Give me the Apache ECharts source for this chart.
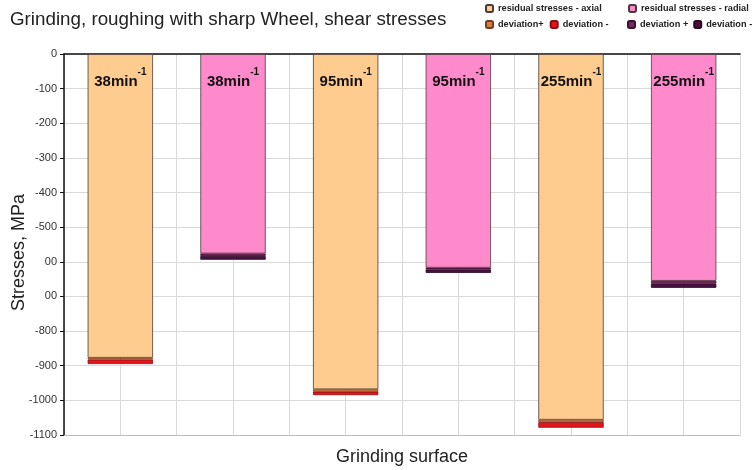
<!DOCTYPE html>
<html>
<head>
<meta charset="utf-8">
<script src="https://cdn.jsdelivr.net/npm/echarts@6/dist/echarts.min.js"></script>
<style>
  html, body { margin: 0; padding: 0; background: #fff; }
  #chart { width: 755px; height: 470px; }
</style>
</head>
<body>
<div id="chart"></div>
<script>
// wheel speeds, one bar per category (axial / radial alternating)
const speeds = ['38', '38', '95', '95', '255', '255'];
const axial = [-877, '-', -968, '-', -1056, '-'];
const radial = ['-', -576, '-', -617, '-', -655];
const axialDevPlus = [-5, '-', -7, '-', -7, '-'];
const axialDevMinus = [-13, '-', -10, '-', -16, '-'];
const radialDevPlus = ['-', -7, '-', -5, '-', -8];
const radialDevMinus = ['-', -11, '-', -10, '-', -12];
const yTicks = { '-600': '00', '-700': '00' }; // labels clipped in the original

const font = 'Liberation Sans, Arial, sans-serif';
const chart = echarts.init(document.getElementById('chart'));

const speedLabel = {
  show: true,
  position: 'insideTop',
  distance: 13,
  formatter: p => '{a|' + speeds[p.dataIndex] + 'min}{b|-1}',
  rich: {
    a: { fontFamily: font, fontSize: 15, fontWeight: 'bold', color: '#111', lineHeight: 30 },
    b: { fontFamily: font, fontSize: 10, fontWeight: 'bold', color: '#111', lineHeight: 12, verticalAlign: 'top' }
  }
};

const bar = (name, data, color, border, extra) => Object.assign({
  name: name,
  type: 'bar',
  stack: 'all',
  data: data,
  barWidth: '58%',
  itemStyle: { color: color, borderColor: border, borderWidth: 0.8 },
  emphasis: { disabled: true }
}, extra || {});

const legendBase = {
  padding: 0,
  width: 240,
  itemWidth: 7,
  itemHeight: 7,
  itemGap: 6,
  textStyle: { fontFamily: font, fontSize: 9.2, fontWeight: 'bold', color: '#222' },
  selectedMode: false
};

const option = {
  animation: false,
  title: {
    text: 'Grinding, roughing with sharp Wheel, shear stresses',
    left: 5,
    top: 5,
    textStyle: { fontFamily: font, fontSize: 18.8, fontWeight: 'normal', color: '#222' }
  },
  legend: [
    Object.assign({}, legendBase, { left: 485, top: 4, data: ['residual stresses - axial'] }),
    Object.assign({}, legendBase, { left: 485, top: 20, data: ['deviation+', 'deviation -'] }),
    Object.assign({}, legendBase, { left: 628, top: 4, data: ['residual stresses - radial'] }),
    Object.assign({}, legendBase, { left: 627, top: 20, itemGap: 5, data: ['deviation +', 'deviation - '] })
  ],
  grid: { left: 64, right: 15, top: 54, bottom: 35, outerBoundsMode: 'none', containLabel: false },
  xAxis: [
    {
      type: 'category',
      data: speeds,
      position: 'top',
      axisLine: { onZero: false, lineStyle: { color: '#111', width: 1.5 } },
      axisTick: { show: false },
      axisLabel: { show: false },
      splitLine: { show: false }
    },
    {
      type: 'value',
      min: 0,
      max: 12,
      interval: 1,
      position: 'bottom',
      name: 'Grinding surface',
      nameLocation: 'middle',
      nameGap: 13,
      nameTextStyle: { fontFamily: font, fontSize: 18, color: '#222' },
      axisLine: { show: true, onZero: false, lineStyle: { color: '#bdbdbd' } },
      axisTick: { show: false },
      axisLabel: { show: false },
      splitLine: { show: true, lineStyle: { color: '#d9d9d9' } }
    }
  ],
  yAxis: {
    type: 'value',
    min: -1100,
    max: 0,
    interval: 100,
    name: 'Stresses, MPa',
    nameLocation: 'middle',
    nameGap: 36,
    nameMoveOverlap: false,
    nameTextStyle: { fontFamily: font, fontSize: 18, color: '#222', padding: [0, 16, 0, 0] },
    axisLine: { show: true, lineStyle: { color: '#111', width: 1.5 } },
    axisTick: { show: true, length: 4, lineStyle: { color: '#111' } },
    axisLabel: {
      fontFamily: font,
      fontSize: 11,
      color: '#333',
      margin: 7,
      formatter: v => yTicks[String(v)] || String(v)
    },
    splitLine: { show: true, lineStyle: { color: '#d9d9d9' } }
  },
  series: [
    bar('residual stresses - axial', axial, '#FFCC8F', '#4a3c3c', { label: speedLabel, z: 2 }),
    bar('residual stresses - radial', radial, '#FF8ACB', '#4a3c3c', { label: speedLabel, z: 2 }),
    bar('deviation+', axialDevPlus, '#D4803F', '#7a3a20'),
    bar('deviation -', axialDevMinus, '#E4141C', '#8a1010'),
    bar('deviation +', radialDevPlus, '#7A2A5E', '#3a1030'),
    bar('deviation - ', radialDevMinus, '#4A1040', '#2a0824')
  ]
};

chart.setOption(option);
</script>
</body>
</html>
